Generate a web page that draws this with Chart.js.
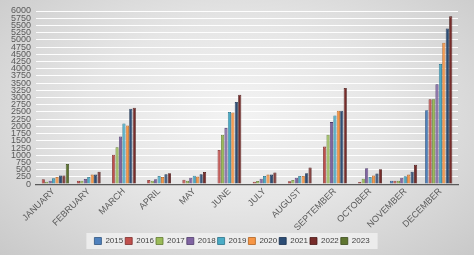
<!DOCTYPE html>
<html>
<head>
<meta charset="utf-8">
<script src="https://cdn.jsdelivr.net/npm/chart.js@4/dist/chart.umd.min.js"></script>
<style>
html,body{margin:0;padding:0;}
#wrap{width:474px;height:255px;position:relative;
background:radial-gradient(ellipse at 50% 45%, #f3f3f3 0%, #e6e6e6 45%, #c9c9c9 100%);}
</style>
</head>
<body>
<div id="wrap"><canvas id="c" width="474" height="255"></canvas></div>
<script>
const categories = ["JANUARY","FEBRUARY","MARCH","APRIL","MAY","JUNE","JULY","AUGUST","SEPTEMBER","OCTOBER","NOVEMBER","DECEMBER"];
const years = ["2015","2016","2017","2018","2019","2020","2021","2022","2023"];
const v2015 = [null,null,null,null,null,null,null,null,null,null,120,2560];
const v2016 = [170,120,1020,140,150,1185,80,100,1300,70,120,2945];
const v2017 = [80,120,1280,120,120,1710,110,140,1710,190,120,2945];
const v2018 = [120,180,1650,170,220,1950,190,220,2150,550,220,3460];
const v2019 = [200,250,2100,280,290,2500,280,280,2380,250,270,4165];
const v2020 = [250,330,2030,250,260,2480,330,280,2545,300,330,4900];
const v2021 = [300,330,2615,340,340,2850,330,375,2545,365,430,5395];
const v2022 = [300,430,2650,375,420,3100,400,575,3330,515,670,5815];
const v2023 = [700,null,null,null,null,null,null,null,null,null,null,null];
const yTicks = [0,250,500,750,1000,1250,1500,1750,2000,2250,2500,2750,3000,3250,3500,3750,4000,4250,4500,4750,5000,5250,5500,5750,6000];

const seriesValues = [v2015,v2016,v2017,v2018,v2019,v2020,v2021,v2022,v2023];
const fills = ["#4F81BD","#C0504D","#9BBB59","#8064A2","#4BACC6","#F79646","#2C4D75","#772C2A","#5F7530"];
const borders = ["#2f5480","#7e2f2d","#5f7a30","#4f3b6b","#2a7289","#b0621f","#18304f","#4a1918","#3a4a1c"];

const legendBg = {
  id:'legendBg',
  beforeDraw(chart){
    const lg = chart.legend;
    if(!lg || !lg.legendHitBoxes || !lg.legendHitBoxes.length) return;
    const hb = lg.legendHitBoxes;
    const x0 = hb[0].left - 8;
    const x1 = hb[hb.length-1].left + hb[hb.length-1].width + 8;
    const y0 = hb[0].top - 4, y1 = hb[0].top + hb[0].height + 4;
    const ctx = chart.ctx;
    ctx.save();
    ctx.fillStyle = 'rgba(240,240,240,0.85)';
    ctx.fillRect(x0,y0,x1-x0,y1-y0);
    ctx.restore();
  }
};

new Chart(document.getElementById('c'), {
  type:'bar',
  data:{
    labels:categories,
    datasets: years.map((y,i)=>({
      label:y,
      data:seriesValues[i],
      backgroundColor:fills[i],
      borderColor:borders[i],
      borderWidth:0.8,
      categoryPercentage:0.88,
      barPercentage:0.92
    }))
  },
  options:{
    responsive:false,
    animation:false,
    devicePixelRatio:1,
    layout:{padding:{left:6,right:16,top:11,bottom:0}},
    plugins:{
      legend:{
        position:'bottom',
        labels:{
          boxWidth:7, boxHeight:7, padding:2,
          color:'#404040',
          font:{family:'Liberation Sans', size:8}
        }
      },
      tooltip:{enabled:false}
    },
    scales:{
      x:{
        grid:{display:false, drawTicks:false},
        border:{display:true,color:'#5a5a5a',width:1.2},
        ticks:{
          maxRotation:45,minRotation:45,autoSkip:false,padding:2,
          color:'#595959',
          font:{family:'Liberation Sans', size:9}
        }
      },
      y:{
        min:0,max:6000,
        afterBuildTicks(axis){ axis.ticks = yTicks.map(v=>({value:v})); },
        grid:{color:'rgba(255,255,255,0.95)', lineWidth:1, drawTicks:false},
        border:{display:false},
        ticks:{
          autoSkip:false,
          padding:5,
          color:'#595959',
          font:{family:'Liberation Sans', size:9},
          callback:(v)=>String(v)
        }
      }
    }
  },
  plugins:[legendBg]
});
</script>
</body>
</html>
